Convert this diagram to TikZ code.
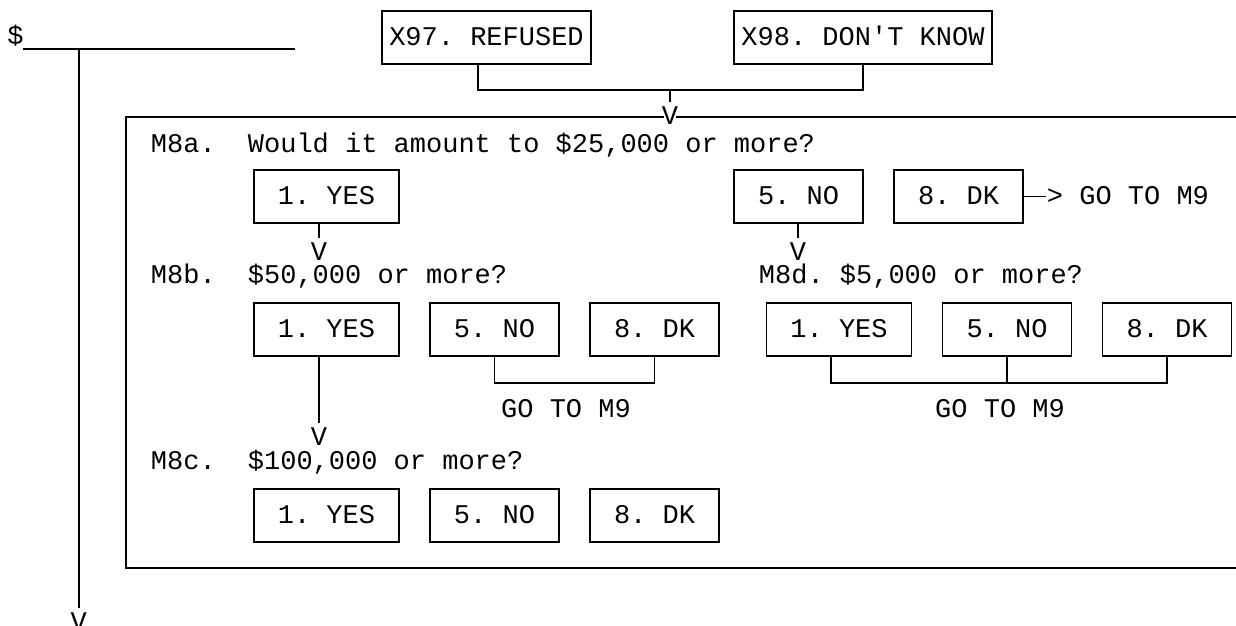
\documentclass[tikz,border=0pt]{standalone}
\usepackage{fontspec}
\setmainfont{Liberation Mono}
\usetikzlibrary{calc,positioning}
\frenchspacing

\begin{document}
\begin{tikzpicture}[x=1pt,y=-1pt,node distance=31pt and 31pt,font=\fontsize{27}{32}\selectfont,line width=1.8pt]

\tikzset{answer/.style={draw,inner sep=0pt,outer sep=0pt,minimum height=53pt,text height=15.4pt,text depth=0pt},
yesbox/.style={answer,minimum width=145pt},
nobox/.style={answer,minimum width=129pt},
qtext/.style={anchor=base west,inner sep=0pt},
vmark/.style={inner sep=0pt,outer ysep=5pt,anchor=north}}

\useasboundingbox (0,0) rectangle (1236,625);

% Amount line
\node [qtext] (dollar) at (6.5,44) {\$};
\coordinate (lineStart) at (23,49.3);
\coordinate (lineEnd) at (295,49.3);
\coordinate (dropTop) at (78.7,49.3);
\draw (lineStart) -- (lineEnd);
\node [vmark] (vEnd) at (78.7,608) {V};
\draw (dropTop) -- (vEnd.north);

% Refused / don't know
\node [answer,minimum width=209pt] (x97) at (486.5,37.5) {X97. REFUSED};
\node [answer,minimum width=258pt] (x98) at (863,37.5) {X98. DON\textquotesingle T KNOW};
\coordinate (merge) at (670,90);

% Frame
\draw (1240,117) -- (126,117) -- (126,568) -- (1240,568);
\node [vmark,fill=white,inner xsep=-2.5pt] (vTop) at (670,102) {V};
\draw ($(x97.south)+(-8.5,0)$) |- (merge) -| (x98.south); \draw (merge) -- (vTop.north);

% M8a
\node [qtext] (m8a) at (150,152) {M8a.};
\node [qtext] (m8aText) at (247,152) {Would it amount to \$25,000 or more?};
\node [yesbox] (yes1) at (326.5,196.5) {1. YES};
\node [nobox] (no1) at (798.5,196.5) {5. NO};
\node [nobox,right=of no1] (dk1) {8. DK};
\node [qtext] (goto1) at (1046,204.5) {> GO TO M9};
\draw (dk1.east) -- (dk1.east -| goto1.west);
\node [vmark] (v8b) at (319,238) {V};
\node [vmark] (v8d) at (798,238) {V};
\draw (v8b.north |- yes1.south) -- (v8b.north); \draw (v8d.north |- no1.south) -- (v8d.north);

% M8b
\node [qtext] (m8b) at (150,283) {M8b.};
\node [qtext] (m8bText) at (247,283) {\$50,000 or more?};
\node [yesbox] (yes2) at (326.5,329.5) {1. YES};
\node [nobox,right=of yes2] (no2) {5. NO};
\node [nobox,right=of no2] (dk2) {8. DK};
\draw (no2.south) -- ++(0,27) -| (dk2.south);
\node [anchor=base,inner sep=0pt] (goto2) at (566,417) {GO TO M9};

% M8d
\node [qtext] (m8d) at (758,283) {M8d. \$5,000 or more?};
\node [yesbox] (yes2d) at (839,329.5) {1. YES};
\node [nobox,right=of yes2d] (no2d) {5. NO};
\node [nobox,right=of no2d] (dk2d) {8. DK};
\draw ($(yes2d.south)+(-8,0)$) -- ++(0,27) -| (dk2d.south); \draw (no2d.south) -- ++(0,27);
\node [anchor=base,inner sep=0pt] (goto3) at (1000,417) {GO TO M9};

% M8c
\node [vmark] (v8c) at (319,423) {V};
\draw (v8c.north |- yes2.south) -- (v8c.north);
\node [qtext] (m8c) at (150,469) {M8c.};
\node [qtext] (m8cText) at (247,469) {\$100,000 or more?};
\node [yesbox] (yes3) at (326.5,515.5) {1. YES};
\node [nobox,right=of yes3] (no3) {5. NO};
\node [nobox,right=of no3] (dk3) {8. DK};

\end{tikzpicture}
\end{document}
